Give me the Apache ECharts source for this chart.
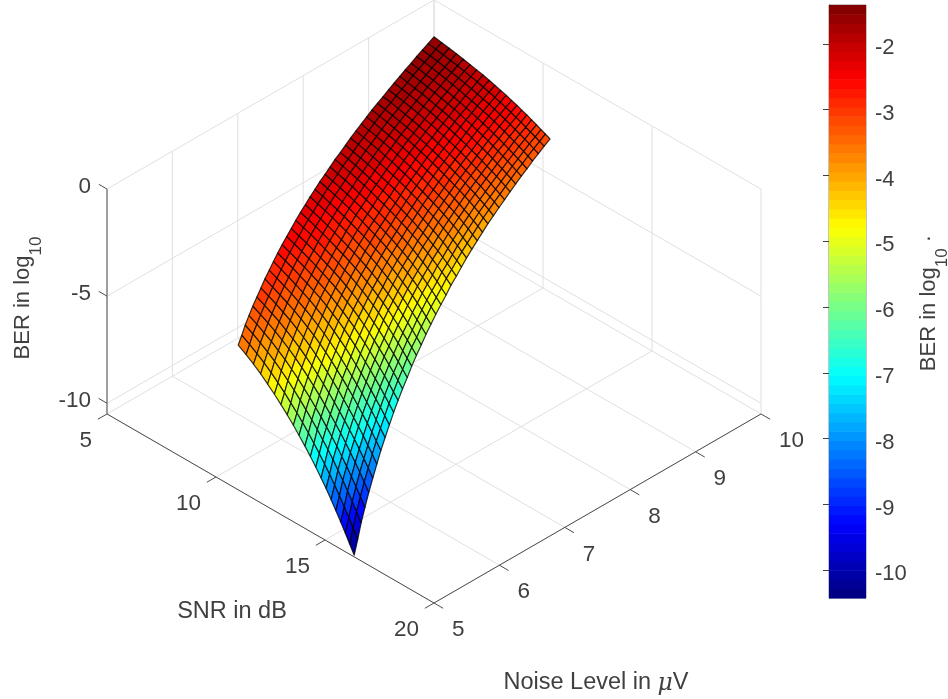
<!DOCTYPE html>
<html><head><meta charset="utf-8">
<style>html,body{margin:0;background:#fff}#c{width:948px;height:699px}</style>
<script src="https://cdn.jsdelivr.net/npm/echarts@6/dist/echarts.min.js"></script></head>
<body><div id="c"></div>
<script>
// Mesh values are visual estimates: calibrated on the sheet's corners, edges and colour bands.
const noiseLevels=[5,5.125,5.25,5.375,5.5,5.625,5.75,5.875,6,6.125,6.25,6.375,6.5,6.625,6.75,6.875,7,7.125,7.25,7.375,7.5,7.625,7.75,7.875,8,8.125,8.25,8.375,8.5,8.625,8.75,8.875,9,9.125,9.25,9.375,9.5,9.625,9.75,9.875,10];
const snrAtNoise10=[5,5.36,5.7,6.03,6.35,6.66,6.96,7.25,7.53,7.79,8.06,8.31,8.56,8.8,9.03,9.26,9.48,9.7,9.91,10.11,10.32];
const snrGainByNoise=[6.02,5.81,5.59,5.39,5.19,5,4.81,4.62,4.44,4.26,4.08,3.91,3.74,3.58,3.41,3.25,3.1,2.94,2.79,2.64,2.5,2.36,2.21,2.08,1.94,1.8,1.67,1.54,1.41,1.28,1.16,1.04,.92,.8,.68,.56,.45,.33,.22,.11,0];
const berLog=[
[-3.74,-3.62,-3.5,-3.39,-3.29,-3.2,-3.11,-3.02,-2.94,-2.86,-2.79,-2.72,-2.66,-2.6,-2.54,-2.48,-2.43,-2.38,-2.34,-2.29,-2.25,-2.21,-2.17,-2.14,-2.1,-2.07,-2.04,-2.01,-1.98,-1.95,-1.93,-1.91,-1.88,-1.86,-1.84,-1.82,-1.8,-1.78,-1.76,-1.74,-1.72],
[-3.98,-3.84,-3.7,-3.59,-3.48,-3.38,-3.28,-3.19,-3.1,-3.02,-2.94,-2.87,-2.8,-2.74,-2.67,-2.61,-2.56,-2.5,-2.45,-2.4,-2.36,-2.32,-2.27,-2.24,-2.2,-2.16,-2.13,-2.1,-2.06,-2.03,-2.01,-1.98,-1.95,-1.93,-1.91,-1.88,-1.86,-1.84,-1.82,-1.8,-1.78],
[-4.22,-4.07,-3.92,-3.79,-3.67,-3.56,-3.45,-3.36,-3.27,-3.18,-3.09,-3.02,-2.94,-2.87,-2.8,-2.74,-2.68,-2.62,-2.57,-2.51,-2.47,-2.42,-2.37,-2.33,-2.29,-2.25,-2.22,-2.18,-2.15,-2.11,-2.09,-2.06,-2.03,-2,-1.98,-1.95,-1.93,-1.9,-1.88,-1.86,-1.84],
[-4.48,-4.31,-4.15,-4,-3.87,-3.75,-3.64,-3.53,-3.43,-3.34,-3.25,-3.17,-3.09,-3.02,-2.94,-2.87,-2.81,-2.75,-2.69,-2.63,-2.58,-2.53,-2.48,-2.44,-2.39,-2.35,-2.31,-2.27,-2.24,-2.2,-2.17,-2.14,-2.11,-2.08,-2.05,-2.02,-2,-1.97,-1.95,-1.93,-1.9],
[-4.77,-4.58,-4.39,-4.24,-4.09,-3.96,-3.83,-3.71,-3.61,-3.51,-3.41,-3.33,-3.24,-3.17,-3.09,-3.01,-2.95,-2.88,-2.82,-2.75,-2.7,-2.65,-2.59,-2.55,-2.5,-2.45,-2.41,-2.37,-2.33,-2.29,-2.26,-2.22,-2.19,-2.16,-2.13,-2.1,-2.07,-2.04,-2.02,-1.99,-1.97],
[-5.06,-4.86,-4.66,-4.48,-4.32,-4.18,-4.04,-3.91,-3.79,-3.68,-3.58,-3.49,-3.4,-3.32,-3.23,-3.16,-3.09,-3.01,-2.95,-2.88,-2.82,-2.77,-2.71,-2.66,-2.61,-2.56,-2.51,-2.47,-2.42,-2.38,-2.35,-2.31,-2.28,-2.24,-2.21,-2.18,-2.15,-2.12,-2.09,-2.06,-2.04],
[-5.37,-5.15,-4.93,-4.75,-4.57,-4.41,-4.26,-4.12,-3.99,-3.87,-3.75,-3.65,-3.56,-3.47,-3.38,-3.3,-3.23,-3.15,-3.08,-3.01,-2.95,-2.89,-2.83,-2.77,-2.72,-2.67,-2.62,-2.57,-2.52,-2.48,-2.44,-2.4,-2.36,-2.33,-2.29,-2.26,-2.23,-2.2,-2.17,-2.14,-2.11],
[-5.68,-5.46,-5.22,-5.02,-4.83,-4.66,-4.49,-4.33,-4.2,-4.07,-3.94,-3.83,-3.72,-3.63,-3.54,-3.45,-3.37,-3.29,-3.22,-3.15,-3.08,-3.02,-2.95,-2.89,-2.83,-2.78,-2.73,-2.68,-2.63,-2.58,-2.54,-2.5,-2.46,-2.42,-2.38,-2.34,-2.31,-2.28,-2.25,-2.21,-2.18],
[-6,-5.76,-5.52,-5.31,-5.1,-4.91,-4.74,-4.57,-4.42,-4.27,-4.14,-4.02,-3.9,-3.8,-3.69,-3.6,-3.52,-3.43,-3.36,-3.28,-3.21,-3.15,-3.08,-3.02,-2.95,-2.89,-2.84,-2.79,-2.74,-2.68,-2.64,-2.6,-2.55,-2.51,-2.47,-2.43,-2.4,-2.36,-2.33,-2.29,-2.26],
[-6.32,-6.06,-5.81,-5.58,-5.37,-5.17,-4.98,-4.8,-4.64,-4.48,-4.33,-4.21,-4.08,-3.97,-3.86,-3.75,-3.67,-3.57,-3.49,-3.41,-3.34,-3.27,-3.2,-3.14,-3.07,-3.01,-2.95,-2.89,-2.84,-2.79,-2.74,-2.69,-2.65,-2.6,-2.56,-2.52,-2.48,-2.44,-2.41,-2.37,-2.34],
[-6.66,-6.39,-6.12,-5.89,-5.66,-5.46,-5.25,-5.06,-4.89,-4.72,-4.56,-4.42,-4.28,-4.16,-4.04,-3.93,-3.83,-3.73,-3.64,-3.56,-3.48,-3.41,-3.33,-3.27,-3.2,-3.13,-3.07,-3.01,-2.95,-2.9,-2.85,-2.8,-2.75,-2.7,-2.66,-2.61,-2.57,-2.53,-2.49,-2.46,-2.42],
[-7,-6.72,-6.43,-6.18,-5.95,-5.73,-5.52,-5.32,-5.13,-4.95,-4.78,-4.63,-4.48,-4.35,-4.22,-4.1,-4,-3.89,-3.79,-3.7,-3.62,-3.54,-3.46,-3.39,-3.32,-3.25,-3.19,-3.13,-3.07,-3.01,-2.95,-2.9,-2.85,-2.8,-2.75,-2.71,-2.67,-2.62,-2.58,-2.54,-2.5],
[-7.35,-7.05,-6.76,-6.5,-6.25,-6.02,-5.79,-5.58,-5.39,-5.2,-5.02,-4.86,-4.7,-4.56,-4.42,-4.29,-4.18,-4.06,-3.96,-3.86,-3.77,-3.68,-3.6,-3.52,-3.45,-3.38,-3.31,-3.25,-3.19,-3.12,-3.07,-3.01,-2.96,-2.91,-2.86,-2.81,-2.76,-2.71,-2.67,-2.63,-2.59],
[-7.71,-7.4,-7.08,-6.81,-6.55,-6.31,-6.08,-5.85,-5.65,-5.46,-5.26,-5.09,-4.92,-4.77,-4.62,-4.48,-4.36,-4.24,-4.12,-4.02,-3.92,-3.83,-3.74,-3.66,-3.58,-3.5,-3.43,-3.37,-3.3,-3.24,-3.18,-3.12,-3.07,-3.01,-2.96,-2.91,-2.86,-2.81,-2.77,-2.72,-2.68],
[-8.07,-7.74,-7.41,-7.12,-6.85,-6.6,-6.36,-6.12,-5.91,-5.7,-5.51,-5.33,-5.15,-4.99,-4.83,-4.68,-4.55,-4.42,-4.3,-4.18,-4.08,-3.98,-3.88,-3.8,-3.71,-3.63,-3.56,-3.49,-3.42,-3.35,-3.29,-3.23,-3.18,-3.12,-3.06,-3.01,-2.96,-2.91,-2.86,-2.82,-2.77],
[-8.46,-8.11,-7.76,-7.46,-7.17,-6.9,-6.65,-6.41,-6.18,-5.97,-5.76,-5.57,-5.39,-5.22,-5.05,-4.9,-4.75,-4.61,-4.48,-4.36,-4.25,-4.15,-4.04,-3.95,-3.86,-3.77,-3.69,-3.61,-3.54,-3.47,-3.41,-3.35,-3.29,-3.23,-3.17,-3.11,-3.06,-3.01,-2.96,-2.91,-2.86],
[-8.84,-8.47,-8.11,-7.79,-7.49,-7.21,-6.94,-6.69,-6.46,-6.23,-6.02,-5.82,-5.63,-5.46,-5.27,-5.11,-4.96,-4.81,-4.67,-4.54,-4.42,-4.31,-4.2,-4.1,-4,-3.91,-3.82,-3.74,-3.67,-3.59,-3.52,-3.46,-3.4,-3.34,-3.28,-3.22,-3.17,-3.11,-3.06,-3.01,-2.96],
[-9.24,-8.86,-8.47,-8.14,-7.82,-7.53,-7.25,-6.99,-6.74,-6.51,-6.28,-6.08,-5.88,-5.69,-5.51,-5.34,-5.18,-5.02,-4.88,-4.74,-4.61,-4.49,-4.37,-4.27,-4.16,-4.06,-3.97,-3.88,-3.8,-3.72,-3.65,-3.58,-3.51,-3.45,-3.39,-3.33,-3.27,-3.21,-3.16,-3.11,-3.06],
[-9.63,-9.24,-8.84,-8.49,-8.15,-7.85,-7.56,-7.28,-7.03,-6.78,-6.55,-6.33,-6.12,-5.93,-5.74,-5.56,-5.4,-5.23,-5.08,-4.93,-4.8,-4.67,-4.54,-4.43,-4.32,-4.21,-4.12,-4.02,-3.94,-3.85,-3.77,-3.7,-3.63,-3.56,-3.5,-3.43,-3.38,-3.32,-3.26,-3.21,-3.16],
[-10.02,-9.61,-9.2,-8.84,-8.49,-8.17,-7.86,-7.58,-7.31,-7.05,-6.81,-6.59,-6.37,-6.17,-5.97,-5.78,-5.62,-5.44,-5.29,-5.13,-4.99,-4.86,-4.72,-4.6,-4.48,-4.37,-4.27,-4.17,-4.07,-3.98,-3.9,-3.82,-3.75,-3.68,-3.61,-3.54,-3.48,-3.42,-3.36,-3.31,-3.25],
[-10.42,-10.02,-9.6,-9.22,-8.86,-8.52,-8.2,-7.89,-7.62,-7.35,-7.1,-6.86,-6.64,-6.43,-6.22,-6.03,-5.85,-5.67,-5.51,-5.35,-5.2,-5.06,-4.91,-4.79,-4.66,-4.54,-4.43,-4.33,-4.23,-4.13,-4.05,-3.96,-3.88,-3.8,-3.73,-3.66,-3.6,-3.53,-3.47,-3.41,-3.36]
];
const snrTicks=[5,10,15,20], noiseTicks=[5,6,7,8,9,10], berTicks=[0,-5,-10], colorbarTicks=[-2,-3,-4,-5,-6,-7,-8,-9,-10];
const snrRange=[5,20], noiseRange=[5,10], berRange=[-10.5,0], colorRange=[-10.42,-1.41], surfaceColorRange=[-10.42,-1.6];

const FONT='22.5px "Liberation Sans", Arial, sans-serif', TEXT='#404040';
const K=1.19/10.5;
const plane=(snr,noise,ber)=>{const u=(noise-noiseRange[0])/5, v=(snrRange[1]-snr)/15; return [u-v,u+v+(ber-berRange[0])*K];};
const jet=t=>{const c=x=>Math.round(255*Math.max(0,Math.min(1,1.5-Math.abs(4*t-x))));return `rgb(${c(3)},${c(2)},${c(1)})`;};
const LEVELS=64;
const levelColor=k=>jet((k+0.5)/LEVELS);
const berColor=b=>{const t=(b-surfaceColorRange[0])/(surfaceColorRange[1]-surfaceColorRange[0]);return levelColor(Math.max(0,Math.min(LEVELS-1,Math.floor(t*LEVELS))));};

// Box: grid lines on floor and two back walls, axis lines, tick marks
const [s0,s1]=snrRange,[n0,n1]=noiseRange,[b0,b1]=berRange;
const gridSegs=[];
snrTicks.forEach(s=>{gridSegs.push([s,n0,b0,s,n1,b0]);gridSegs.push([s,n1,b0,s,n1,b1]);});
noiseTicks.forEach(n=>{gridSegs.push([s0,n,b0,s1,n,b0]);gridSegs.push([s0,n,b0,s0,n,b1]);});
berTicks.forEach(b=>{gridSegs.push([s0,n0,b,s0,n1,b]);gridSegs.push([s0,n1,b,s1,n1,b]);});
const axisSegs=[[s0,n0,b0,s1,n0,b0],[s1,n0,b0,s1,n1,b0],[s0,n0,b0,s0,n0,b1]];
snrTicks.forEach(s=>axisSegs.push([s,n0,b0,s,n0-0.14,b0]));
noiseTicks.forEach(n=>axisSegs.push([s1,n,b0,s1+0.42,n,b0]));
berTicks.forEach(b=>axisSegs.push([s0,n0,b,s0-0.38,n0,b]));

const segSeries=(segs,color,z)=>({type:'custom',coordinateSystem:'cartesian2d',xAxisIndex:0,yAxisIndex:0,silent:true,clip:false,z,data:segs,
 renderItem:(p,api)=>{const g=api.value.bind(api);const a=api.coord(plane(g(0),g(1),g(2))),b=api.coord(plane(g(3),g(4),g(5)));
  return {type:'line',shape:{x1:a[0],y1:a[1],x2:b[0],y2:b[1]},style:{stroke:color,lineWidth:1}};}});

const cells=[];
for(let j=0;j<snrAtNoise10.length-1;j++)for(let i=0;i<noiseLevels.length-1;i++)cells.push([i,j]);
const vertex=(i,j)=>plane(snrAtNoise10[j]+snrGainByNoise[i],noiseLevels[i],berLog[j][i]);

const labels=[...snrTicks.map(s=>[plane(s,n0,b0),String(s),-15,27,'right']),
 ...noiseTicks.map(n=>[plane(s1,n,b0),String(n),18,27,'left']),
 ...berTicks.map(b=>[plane(s0,n0,b),String(b),-16,-2,'right'])];

const F='"Liberation Sans"';
const gText=(x,y,text,size,rot,raise)=>({type:'text',x,y,rotation:rot||0,silent:true,z:20,style:{text,align:'center',verticalAlign:'middle',
  rich:{a:{fontSize:size,fontFamily:F,fill:TEXT,lineHeight:24,verticalAlign:'bottom',padding:[0,0,raise||0,0]},
        s:{fontSize:17,fontFamily:F,fill:TEXT,lineHeight:20,verticalAlign:'bottom'},
        m:{fontSize:size,fontStyle:'italic',fontFamily:'"DejaVu Serif"',fill:TEXT,lineHeight:24,verticalAlign:'bottom'}}}});

const chart=echarts.init(document.getElementById('c'),null,{renderer:'canvas'});
chart.setOption({animation:false,backgroundColor:'#fff',
 grid:[{left:107,width:654,top:0,height:603,show:false},
       {left:829,width:37,top:5,height:593,show:true,borderColor:'#8a8a8a',borderWidth:1,backgroundColor:'transparent'}],
 xAxis:[{gridIndex:0,type:'value',min:-1,max:1,show:false},{gridIndex:1,type:'value',min:0,max:1,show:false}],
 yAxis:[{gridIndex:0,type:'value',min:0,max:3.19,show:false},
  {gridIndex:1,type:'value',position:'right',min:colorRange[0],max:colorRange[1],
   axisLine:{show:true,lineStyle:{color:'#404040',width:1}},splitLine:{show:false},
   axisTick:{show:true,inside:true,length:6,lineStyle:{color:'#404040'},customValues:colorbarTicks},
   axisLabel:{show:true,margin:9,customValues:colorbarTicks,formatter:v=>`{l|${v}}`,
     rich:{l:{color:TEXT,fontSize:22,fontFamily:F,padding:[8,0,0,0]}}}}],
 series:[
  segSeries(gridSegs,'#e0e0e0',1),
  segSeries(axisSegs,'#4d4d4d',2),
  {type:'custom',coordinateSystem:'cartesian2d',xAxisIndex:0,yAxisIndex:0,silent:true,clip:false,z:3,data:cells,
   renderItem:(p,api)=>{const i=api.value(0),j=api.value(1);
    const pts=[vertex(i,j),vertex(i+1,j),vertex(i+1,j+1),vertex(i,j+1)].map(q=>api.coord(q));
    const m=(berLog[j][i]+berLog[j][i+1]+berLog[j+1][i]+berLog[j+1][i+1])/4;
    return {type:'polygon',shape:{points:pts},style:{fill:berColor(m),stroke:'rgba(0,0,0,0.78)',lineWidth:1.2,lineJoin:'round'}};}},
  {type:'custom',coordinateSystem:'cartesian2d',xAxisIndex:0,yAxisIndex:0,silent:true,clip:false,z:4,data:labels.map((l,k)=>[k,0]),
   renderItem:(p,api)=>{const l=labels[api.value(0)];const c=api.coord(l[0]);
    return {type:'text',style:{x:c[0]+l[2],y:c[1]+l[3],text:l[1],align:l[4],verticalAlign:'middle',font:FONT,fill:TEXT}};}},
  {type:'custom',coordinateSystem:'cartesian2d',xAxisIndex:1,yAxisIndex:1,silent:true,z:1,
   data:Array.from({length:LEVELS},(_,k)=>[k,0]),
   renderItem:(p,api)=>{const k=api.value(0),span=colorRange[1]-colorRange[0];
    const a=api.coord([0,colorRange[0]+k*span/LEVELS]),b=api.coord([1,colorRange[0]+(k+1)*span/LEVELS]);
    return {type:'rect',shape:{x:a[0],y:b[1],width:b[0]-a[0],height:a[1]-b[1]+0.6},style:{fill:levelColor(k)}};}}
 ],
 graphic:[gText(33,298,'{a|BER in log}{s|10}',22,Math.PI/2,11),
          gText(232,612,'{a|SNR in dB}',23.5),
          gText(596,683,'{a|Noise Level in }{m|μ}{a|V}',23.5),
          gText(939,303,'{a|BER in log}{s|10}{a| ·}',22,Math.PI/2,11)]
});
</script></body></html>
